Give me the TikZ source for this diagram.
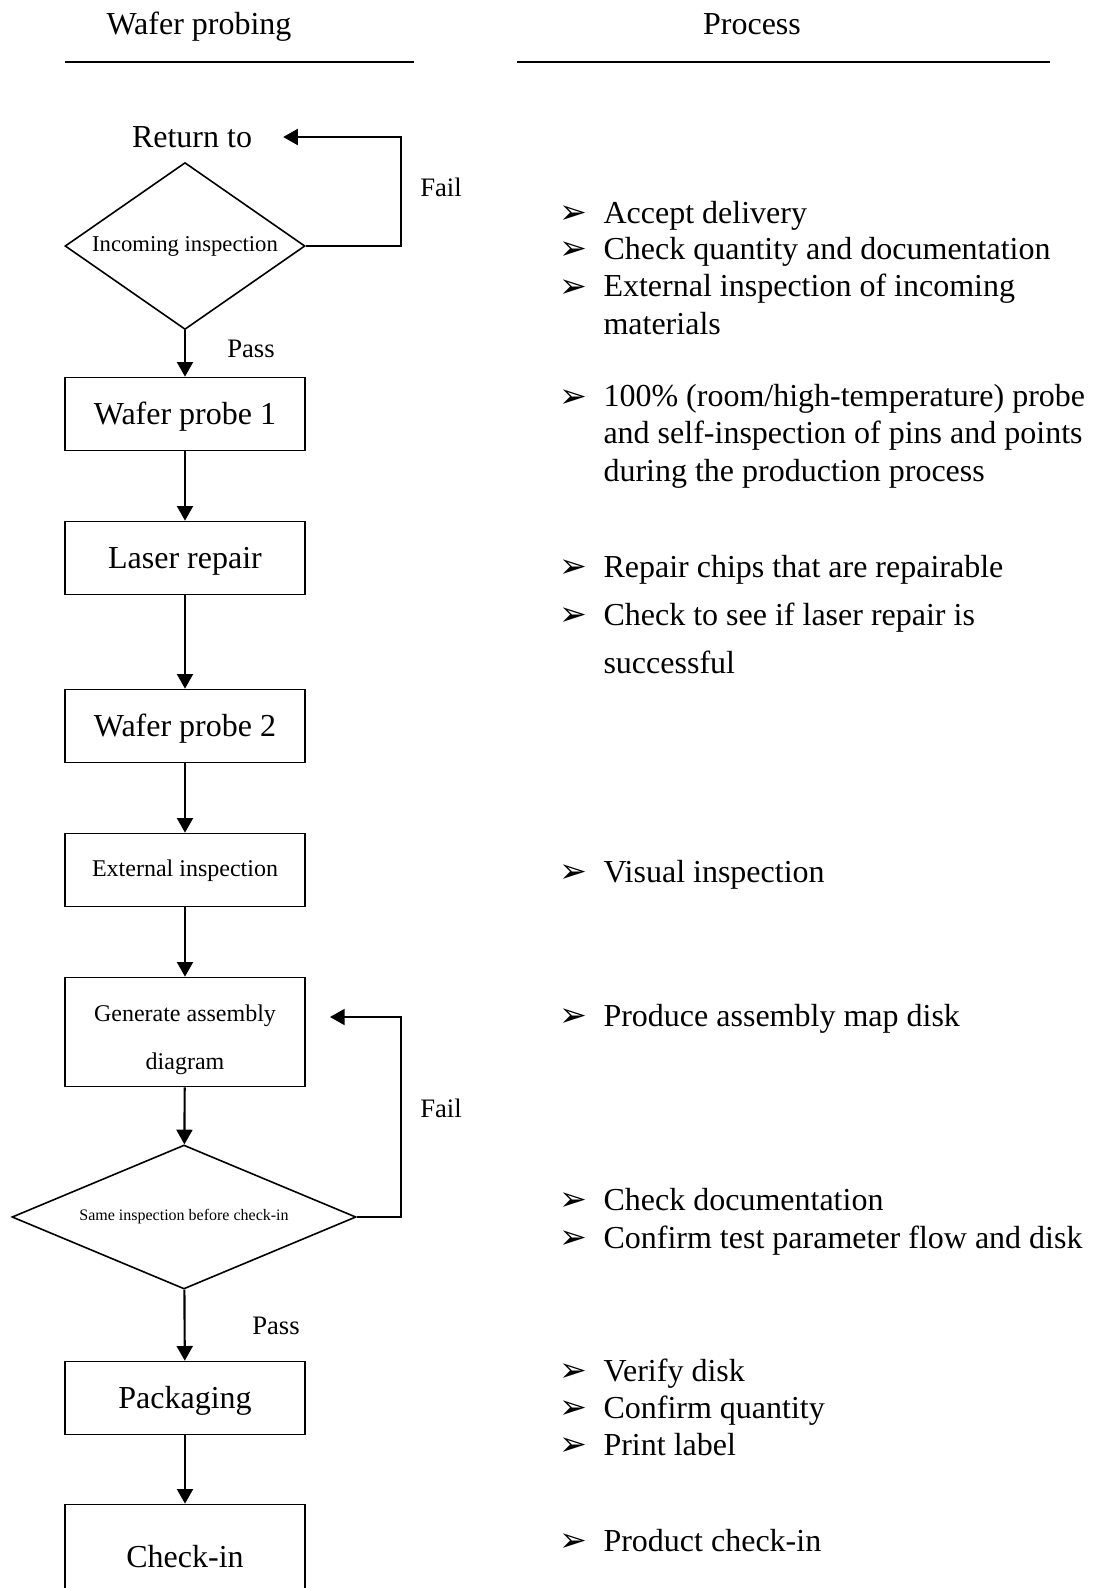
\documentclass[tikz,border=0pt]{standalone}
\usepackage{fontspec}
\setmainfont{Liberation Serif}
\newfontfamily\dingfont{DejaVu Sans}
\usetikzlibrary{arrows.meta, positioning, shapes.geometric}
\newcommand{\bul}{{\dingfont\fontsize{12.5}{12.5}\selectfont ➢}}

\begin{document}
\begin{tikzpicture}[x=0.375pt, y=-0.375pt,
  box/.style={rectangle, draw, line width=0.6pt, minimum width=90pt, minimum height=27.4pt, inner sep=0pt, text height=1.02em, text depth=0.22em, font=\fontsize{12}{14}\selectfont},
  dec/.style={diamond, draw, line width=0.6pt, inner sep=0pt},
  e/.style={-{Triangle[length=5.5pt, width=6pt]}, line width=0.8pt},
  lbl/.style={font=\fontsize{10}{12}\selectfont},
  hd/.style={anchor=base, font=\fontsize{12}{14}\selectfont},
  item/.style={anchor=base west, align=left, inner sep=0pt, font=\fontsize{12}{13.9}\selectfont},
  bl/.style={anchor=base west, inner sep=0pt}]
  \useasboundingbox (0,0) rectangle (1093,1588);

  % headers
  \node[hd] (hw) at (199,34) {Wafer probing};
  \node[hd] (hp) at (752,34) {Process};
  \draw[line width=0.6pt] (65,62) -- (414,62);
  \draw[line width=0.6pt] (517,62) -- (1050,62);

  % flow
  \node[font=\fontsize{12}{14}\selectfont, inner xsep=11.5pt] (ret) at (192,137) {Return to};
  \node[dec, minimum width=90pt, minimum height=62.6pt, aspect=1.44, font=\fontsize{8.5}{10}\selectfont] (d1) at (185,246) {Incoming inspection};
  \node[box] (wp1) at (185,414) {Wafer probe 1};
  \node[box] (lr)  at (185,558) {Laser repair};
  \node[box] (wp2) at (185,726) {Wafer probe 2};
  \node[box, text height=0.73em, font=\fontsize{9}{11}\selectfont] (ext) at (185,870) {External inspection};
  \node[box, minimum height=40.9pt, align=center, text height=30.2pt, text depth=1.95pt, font=\fontsize{9}{18.2}\selectfont] (gen) at (185,1032) {Generate assembly\\diagram};
  \node[dec, minimum width=129pt, minimum height=54pt, aspect=2.39, font=\fontsize{6}{7}\selectfont] (d2) at (184,1217) {Same inspection before check-in};
  \node[box] (pkg) at (185,1398) {Packaging};
  \node[box, minimum height=39.4pt] (chk) at (185,1557) {Check-in};
  \coordinate (genin) at (330,1017);

  \draw[e] (d1.east) -| (401,137) -- (ret.east);
  \draw[e] (d1) -- (wp1);
  \draw[e] (wp1) -- (lr);
  \draw[e] (lr) -- (wp2);
  \draw[e] (wp2) -- (ext);
  \draw[e] (ext) -- (gen);
  \draw[e] (gen) -- (d2);
  \draw[e] (d2.east) -| (401,1017) -- (genin);
  \draw[e] (d2) -- (pkg);
  \draw[e] (pkg) -- (chk);

  \node[lbl] (f1) at (441,187) {Fail};
  \node[lbl] (p1) at (251,349) {Pass};
  \node[lbl] (f2) at (441,1108) {Fail};
  \node[lbl] (p2) at (276,1326) {Pass};

  % process notes (first baseline / last baseline / text)
  \foreach \y/\yl/\txt [count=\i] in {
    223/223/Accept delivery,
    259/259/Check quantity and documentation,
    297/334/{External inspection of incoming\\materials},
    407/481/{100\% (room/high-temperature) probe\\and self-inspection of pins and points\\during the production process},
    577/577/Repair chips that are repairable,
    625/673/{Check to see if laser repair is\\[4.1pt]successful},
    882/882/Visual inspection,
    1026/1026/Produce assembly map disk,
    1210/1210/Check documentation,
    1248/1248/Confirm test parameter flow and disk,
    1381/1381/Verify disk,
    1418/1418/Confirm quantity,
    1455/1455/Print label,
    1551/1551/Product check-in}
  {
    \node[bl] (b\i) at (559,\y) {\bul};
    \node[item] (t\i) at (603,\yl) {\txt};
  }
\end{tikzpicture}
\end{document}
